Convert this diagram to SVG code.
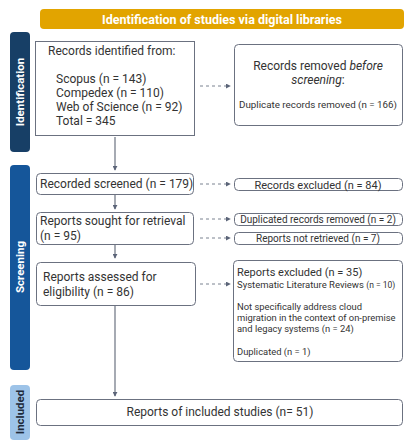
<svg xmlns="http://www.w3.org/2000/svg" width="416" height="446" viewBox="0 0 416 446">
<defs>
<style>
text{font-family:Roboto,"Liberation Sans",sans-serif;fill:#333;}
.box{fill:#fff;stroke:#6b7180;stroke-width:1;}
.conn{stroke:#6b7280;stroke-width:1.2;fill:none;}
.dash{stroke:#7b8290;stroke-width:1;stroke-dasharray:3,3;fill:none;}
.side{font-weight:bold;font-size:11.5px;fill:#fff;}
.t12{font-size:12px;}
.t10{font-size:10px;}
.t9{font-size:9.4px;}
</style>
<marker id="ah" viewBox="0 0 6 6" refX="5" refY="3" markerWidth="5" markerHeight="5" orient="auto" markerUnits="userSpaceOnUse">
<path d="M0,0L6,3L0,6z" fill="#5b6478"/>
</marker>
</defs>
<rect width="416" height="446" fill="#fff"/>
<g id="banner">
<rect x="40" y="9" width="364" height="20" rx="4" fill="#E2A400"/>
<text x="222" y="23.5" text-anchor="middle" style="font-weight:bold;font-size:12.5px;fill:#fff">Identification of studies via digital libraries</text>
</g>
<g id="side-identification">
<rect x="10" y="32" width="20" height="120" rx="4" fill="#173F66"/>
<text class="side" transform="translate(24,92) rotate(-90)" text-anchor="middle">Identification</text>
</g>
<g id="side-screening">
<rect x="10" y="165" width="20" height="205" rx="4" fill="#15569A"/>
<text class="side" transform="translate(24,267) rotate(-90)" text-anchor="middle">Screening</text>
</g>
<g id="side-included">
<rect x="10" y="385" width="20" height="55" rx="4" fill="#9DC3E8"/>
<text class="side" transform="translate(24,412) rotate(-90)" text-anchor="middle" style="fill:#1e2a3a">Included</text>
</g>
<g id="connectors">
<line class="conn" x1="115" y1="137" x2="115" y2="170" marker-end="url(#ah)"/>
<line class="conn" x1="115" y1="195" x2="115" y2="209" marker-end="url(#ah)"/>
<line class="conn" x1="115" y1="245" x2="115" y2="258" marker-end="url(#ah)"/>
<line class="conn" x1="115" y1="306" x2="115" y2="396" marker-end="url(#ah)"/>
<line class="dash" x1="200" y1="86" x2="230" y2="86" marker-end="url(#ah)"/>
<line class="dash" x1="200" y1="184" x2="230" y2="184" marker-end="url(#ah)"/>
<line class="dash" x1="200" y1="219" x2="230" y2="219" marker-end="url(#ah)"/>
<line class="dash" x1="200" y1="238" x2="230" y2="238" marker-end="url(#ah)"/>
<line class="dash" x1="200" y1="284" x2="230" y2="284" marker-end="url(#ah)"/>
</g>
<g id="identified">
<rect class="box" x="35.5" y="41.5" width="159" height="94"/>
<text class="t12" x="48" y="55">Records identified from:</text>
<text class="t12" x="56" y="83">Scopus (n = 143)</text>
<text class="t12" x="56" y="97">Compedex (n = 110)</text>
<text class="t12" x="56" y="111">Web of Science (n = 92)</text>
<text class="t12" x="56" y="125">Total = 345</text>
</g>
<g id="removed">
<rect class="box" x="234.5" y="44.5" width="168" height="81" rx="4"/>
<text class="t12" x="318" y="70" text-anchor="middle">Records removed <tspan font-style="italic">before</tspan></text>
<text class="t12" x="318" y="84" text-anchor="middle"><tspan font-style="italic">screening</tspan>:</text>
<text x="318" y="108" text-anchor="middle" style="font-size:9.8px">Duplicate records removed (n = 166)</text>
</g>
<g id="screened">
<rect class="box" x="36.5" y="173.5" width="157" height="21" rx="4"/>
<text class="t12" x="40" y="188">Recorded screened (n = 179)</text>
</g>
<g id="excluded84">
<rect class="box" x="234.5" y="178.5" width="168" height="12" rx="4"/>
<text x="318" y="188.5" text-anchor="middle" style="font-size:11px">Records excluded (n = 84)</text>
</g>
<g id="sought">
<rect class="box" x="36.5" y="212.5" width="157" height="32" rx="4"/>
<text class="t12" x="40" y="225">Reports sought for retrieval</text>
<text class="t12" x="40" y="240">(n = 95)</text>
</g>
<g id="dup2">
<rect class="box" x="234.5" y="213.5" width="168" height="12" rx="4"/>
<text class="t10" x="318" y="223" text-anchor="middle">Duplicated records removed (n = 2)</text>
</g>
<g id="notretrieved">
<rect class="box" x="234.5" y="232.5" width="168" height="12" rx="4"/>
<text class="t10" x="318" y="242" text-anchor="middle">Reports not retrieved (n = 7)</text>
</g>
<g id="assessed">
<rect class="box" x="36.5" y="262.5" width="159" height="43" rx="4"/>
<text class="t12" x="43" y="281">Reports assessed for</text>
<text class="t12" x="43" y="296">eligibility (n = 86)</text>
</g>
<g id="excluded35">
<rect class="box" x="233.5" y="260.5" width="169" height="101" rx="4"/>
<text x="237" y="276" style="font-size:11px">Reports excluded (n = 35)</text>
<text x="237" y="288" style="font-size:9.5px">Systematic Literature Reviews <tspan style="font-size:8.5px">(n = 10)</tspan></text>
<text class="t9" x="237" y="310">Not specifically address cloud</text>
<text class="t9" x="237" y="321">migration in the context of on-premise</text>
<text class="t9" x="237" y="332">and legacy systems (n = 24)</text>
<text class="t9" x="237" y="355">Duplicated (n = 1)</text>
</g>
<g id="included">
<rect class="box" x="36.5" y="399.5" width="366" height="26" rx="4"/>
<text class="t12" x="220" y="416" text-anchor="middle">Reports of included studies (n= 51)</text>
</g>
</svg>
